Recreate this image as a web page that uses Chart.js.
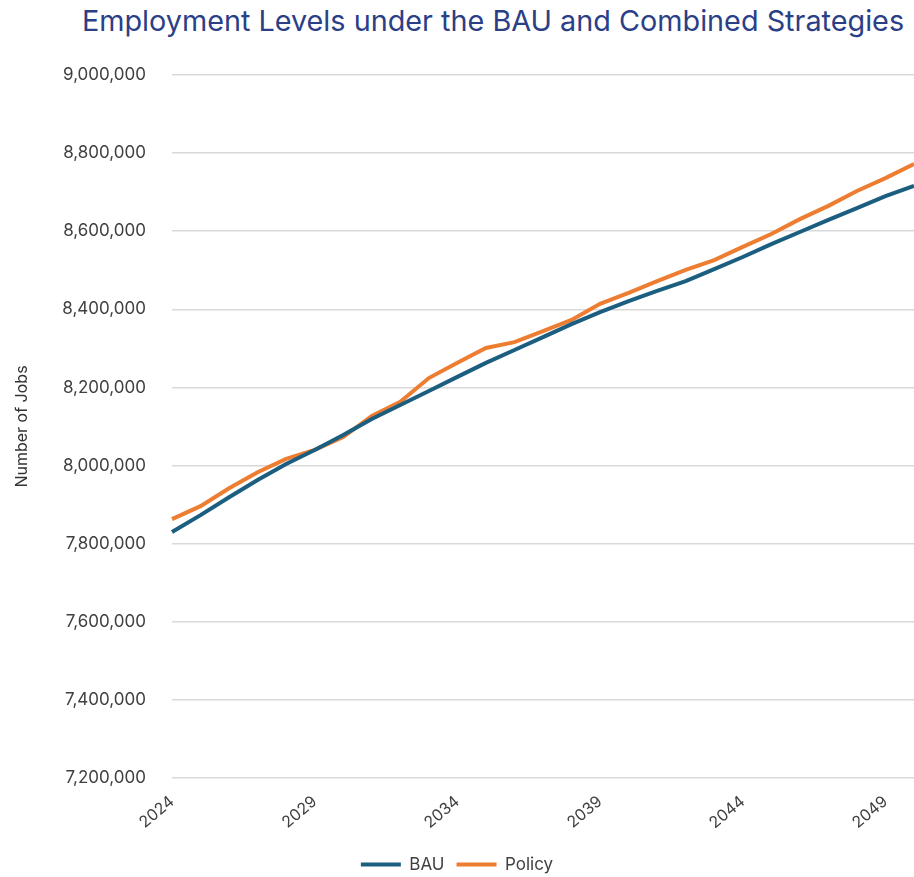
<!DOCTYPE html>
<html>
<head>
<meta charset="utf-8">
<script src="https://cdn.jsdelivr.net/npm/chart.js@4.4.1/dist/chart.umd.min.js"></script>
<style>
  body { margin: 0; background: #fff; }
  #wrap { position: relative; width: 914px; height: 877px; }
  #title {
    position: absolute; left: 72px; right: 0; top: 3px;
    text-align: center; font-family: Inter, sans-serif; font-size: 28.8px;
    color: #2b3f87; white-space: nowrap;
  }
  canvas { position: absolute; left: 0; top: 0; }
</style>
</head>
<body>
<div id="wrap">
  <div id="title">Employment Levels under the BAU and Combined Strategies</div>
  <canvas id="employmentChart" width="914" height="877"></canvas>
</div>
<script>
const years = [2024, 2025, 2026, 2027, 2028, 2029, 2030, 2031, 2032, 2033, 2034, 2035, 2036,
    2037, 2038, 2039, 2040, 2041, 2042, 2043, 2044, 2045, 2046, 2047, 2048, 2049, 2050];

const bauJobs = [7830000, 7873000, 7919000, 7963000, 8004000, 8040000, 8078000, 8119000, 8155000,
    8191000, 8227000, 8263000, 8296000, 8329000, 8362000, 8393000, 8421000, 8447000, 8472000,
    8503000, 8534000, 8567000, 8598000, 8629000, 8659000, 8690000, 8716000];

const policyJobs = [7863000, 7896000, 7942000, 7983000, 8017000, 8040000, 8073000, 8127000, 8163000,
    8224000, 8263000, 8301000, 8316000, 8344000, 8373000, 8414000, 8442000, 8472000, 8501000,
    8526000, 8560000, 8593000, 8631000, 8665000, 8703000, 8736000, 8772000];

const yMin = 7200000;
const yMax = 9000000;
const yStep = 200000;

const fontFamily = 'Inter, sans-serif';
const textColor = '#404040';

const ctx = document.getElementById('employmentChart').getContext('2d');

new Chart(ctx, {
    type: 'line',
    data: {
        labels: years,
        datasets: [{
            label: 'BAU',
            data: bauJobs,
            borderColor: '#1b5e80',
            backgroundColor: '#1b5e80',
            borderWidth: 4,
            pointRadius: 0,
            tension: 0
        }, {
            label: 'Policy',
            data: policyJobs,
            borderColor: '#ed7d31',
            backgroundColor: '#ed7d31',
            borderWidth: 4,
            pointRadius: 0,
            tension: 0
        }]
    },
    options: {
        responsive: false,
        animation: false,
        layout: { padding: { top: 75, right: 0, bottom: -6, left: 0 } },
        plugins: {
            legend: {
                position: 'bottom',
                labels: {
                    color: textColor,
                    font: { family: fontFamily, size: 17 },
                    boxWidth: 40,
                    boxHeight: 4,
                    padding: 12,
                    generateLabels: chart => Chart.defaults.plugins.legend.labels.generateLabels(chart)
                        .map(item => Object.assign(item, { lineWidth: 0 }))
                }
            },
            tooltip: { enabled: false }
        },
        scales: {
            x: {
                grid: { display: false },
                border: { display: false },
                ticks: {
                    color: textColor,
                    font: { family: fontFamily, size: 16 },
                    autoSkip: false,
                    minRotation: 40,
                    maxRotation: 40,
                    padding: 6,
                    callback: function (value, index) {
                        return index % 5 === 0 ? this.getLabelForValue(value) : '';
                    }
                },
                afterFit: scale => {
                    scale.height = 66;
                    scale.paddingRight = 0;
                }
            },
            y: {
                min: yMin,
                max: yMax,
                grid: { color: '#d9d9d9', lineWidth: 1.5, drawTicks: false },
                border: { display: false },
                ticks: {
                    stepSize: yStep,
                    color: textColor,
                    font: { family: fontFamily, size: 17 },
                    padding: 26,
                    callback: value => value.toLocaleString('en-US')
                },
                title: {
                    display: true,
                    text: 'Number of Jobs',
                    color: '#333333',
                    font: { family: fontFamily, size: 16 },
                    padding: { top: 13, bottom: 0 }
                },
                afterFit: scale => { scale.width = 172; }
            }
        }
    }
});
</script>
</body>
</html>
